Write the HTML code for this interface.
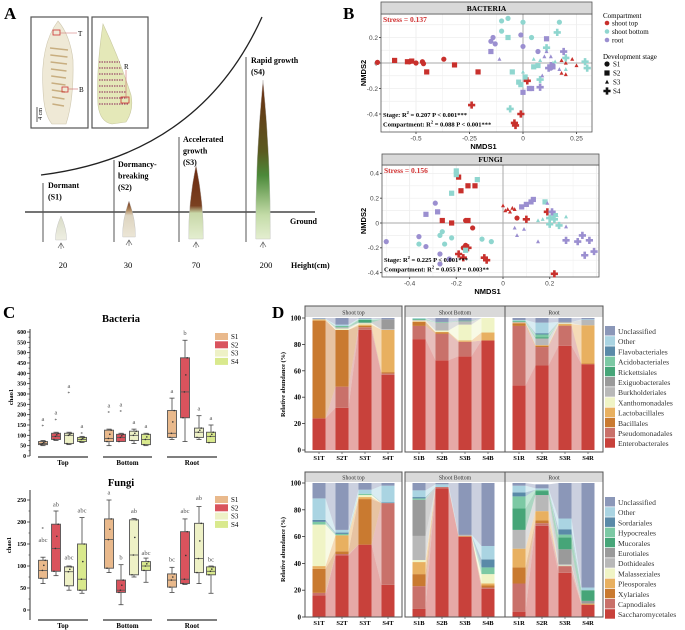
<!DOCTYPE html>
<html><head><meta charset="utf-8"><title>Bamboo shoot microbiome figure</title>
<style>
html,body{margin:0;padding:0;background:#fff;}
svg{display:block;font-family:"Liberation Serif",serif;}
</style></head>
<body>
<svg id="fig" width="685" height="630" viewBox="0 0 685 630" xmlns="http://www.w3.org/2000/svg">
<defs>
<linearGradient id="gS1" x1="0" y1="0" x2="0" y2="1"><stop offset="0" stop-color="#d9dcc8"/><stop offset="1" stop-color="#eeeee2"/></linearGradient>
<linearGradient id="gS2" x1="0" y1="0" x2="0" y2="1"><stop offset="0" stop-color="#6b2a10"/><stop offset="0.25" stop-color="#b08a60"/><stop offset="0.4" stop-color="#ddd4c0"/><stop offset="1" stop-color="#ece6d6"/></linearGradient>
<linearGradient id="gS3" x1="0" y1="0" x2="0" y2="1"><stop offset="0" stop-color="#6b2a10"/><stop offset="0.55" stop-color="#7a4020"/><stop offset="0.65" stop-color="#c8d8a8"/><stop offset="1" stop-color="#e4eed0"/></linearGradient>
<linearGradient id="gS4" x1="0" y1="0" x2="0" y2="1"><stop offset="0" stop-color="#6b2a10"/><stop offset="0.45" stop-color="#5a5a20"/><stop offset="0.6" stop-color="#4c8a3a"/><stop offset="0.85" stop-color="#c4dca8"/><stop offset="1" stop-color="#e4eed0"/></linearGradient>
</defs>
</svg>
<script>
// ===== DATA =====
// Panel B NMDS points: [x, y, compartmentIndex, stageIndex]
const bacNmdsPoints = [
[-0.68,0.005,0,0],[-0.53,0.01,0,0],[-0.5,0.0,0,0],[-0.47,0.01,0,0],[-0.465,-0.005,0,0],[-0.37,0.03,0,0],
[-0.6,0.02,0,1],[-0.52,0.015,0,1],[-0.54,0.01,0,1],[-0.45,-0.07,0,1],[-0.32,-0.015,0,1],[-0.21,-0.07,0,1],
[0.18,0.02,0,2],[0.2,0.0,0,2],[0.23,0.03,0,2],[0.25,-0.02,0,2],[0.18,-0.08,0,2],[0.2,-0.09,0,2],
[-0.24,-0.33,0,3],[-0.04,-0.47,0,3],[-0.035,-0.49,0,3],[-0.01,-0.4,0,3],[0.02,-0.14,0,3],
[-0.1,0.33,1,0],[-0.07,0.35,1,0],[-0.1,0.25,1,0],[0.0,0.32,1,0],[0.04,0.2,1,0],[0.17,0.32,1,0],
[-0.07,0.2,1,1],[-0.05,-0.07,1,1],[-0.02,-0.15,1,1],[-0.01,-0.17,1,1],[0.01,-0.11,1,1],[0.07,-0.02,1,1],[0.05,-0.03,1,1],
[0.0,-0.07,1,2],[0.05,0.03,1,2],[0.08,0.02,1,2],[0.15,0.01,1,2],[0.2,-0.05,1,2],[0.14,0.0,1,2],
[-0.06,-0.36,1,3],[0.08,-0.13,1,3],[0.11,0.12,1,3],[0.16,0.24,1,3],[0.29,0.01,1,3],[0.3,-0.04,1,3],[0.2,0.04,1,3],
[-0.15,0.17,2,0],[-0.13,0.15,2,0],[-0.14,0.2,2,0],[-0.01,0.22,2,0],[0.0,0.13,2,0],[0.07,0.09,2,0],[0.13,-0.04,2,0],[0.14,-0.02,2,0],
[-0.15,0.09,2,1],[0.0,-0.23,2,1],[0.04,-0.2,2,1],[0.03,-0.2,2,1],[0.11,0.19,2,1],[0.14,-0.03,2,1],
[-0.11,0.03,2,2],[0.1,0.05,2,2],[0.11,0.09,2,2],[0.13,0.05,2,2],[0.09,-0.1,2,2],[0.17,-0.05,2,2],
[0.08,-0.19,2,3],[0.12,-0.04,2,3],[0.19,0.09,2,3],[0.13,-0.02,2,3]
];
const funNmdsPoints = [
[-0.17,-0.2,0,0],[-0.13,-0.04,0,0],[-0.16,0.02,0,0],[0.06,0.04,0,0],[-0.16,-0.18,0,0],
[-0.19,0.37,0,1],[-0.15,0.3,0,1],[-0.12,0.3,0,1],[-0.18,0.26,0,1],[-0.26,0.02,0,1],[-0.22,0.0,0,1],[-0.15,0.02,0,1],
[0.0,0.14,0,2],[0.02,0.11,0,2],[0.04,0.12,0,2],[0.05,0.11,0,2],[0.01,0.1,0,2],[0.03,0.09,0,2],
[-0.19,-0.25,0,3],[-0.17,-0.28,0,3],[-0.08,-0.28,0,3],[-0.07,-0.3,0,3],[-0.15,-0.2,0,3],[0.1,0.03,0,3],[0.19,0.09,0,3],[0.22,-0.41,0,3],
[-0.36,-0.17,1,0],[-0.27,-0.1,1,0],[-0.26,-0.07,1,0],[-0.22,-0.12,1,0],[-0.09,-0.13,1,0],[-0.05,-0.15,1,0],[-0.25,-0.17,1,0],
[-0.2,0.42,1,1],[-0.2,0.39,1,1],[-0.11,0.35,1,1],[-0.22,0.24,1,1],[0.18,0.17,1,1],[-0.16,-0.22,1,1],
[0.15,0.02,1,2],[0.17,0.03,1,2],[0.21,0.05,1,2],[0.27,0.05,1,2],[0.2,0.0,1,2],[0.23,0.06,1,2],
[0.2,0.04,1,3],[0.22,0.07,1,3],[0.24,-0.02,1,3],[0.2,-0.01,1,3],[0.22,0.03,1,3],
[-0.5,-0.15,2,0],[-0.36,-0.11,2,0],[-0.33,-0.19,2,0],[-0.29,0.16,2,0],[-0.27,-0.25,2,0],[-0.23,-0.29,2,0],[-0.27,-0.33,2,0],
[-0.33,0.07,2,1],[-0.28,0.09,2,1],[0.08,0.13,2,1],[0.1,0.15,2,1],[0.12,0.17,2,1],[0.13,0.19,2,1],
[0.05,-0.04,2,2],[0.06,-0.1,2,2],[0.09,-0.05,2,2],[0.15,-0.15,2,2],[0.19,0.16,2,2],[0.27,-0.03,2,2],
[0.21,0.09,2,3],[0.27,-0.14,2,3],[0.32,-0.15,2,3],[0.34,-0.1,2,3],[0.37,-0.14,2,3],[0.35,-0.26,2,3],[0.39,-0.23,2,3]
];
const bacXTicks = [-0.5,-0.25,0,0.25];
const bacXTickLabels = ["-0.5","-0.25","0","0.25"];
const bacYTicks = [0.2,0,-0.2,-0.4];
const funXTicks = [-0.4,-0.2,0,0.2];
const funYTicks = [0.4,0.2,0,-0.2,-0.4];
const compartments = ["shoot top","shoot bottom","root"];
const stages = ["S1","S2","S3","S4"];

// Panel C boxplots: [q1, median, q3, min, max, outlier or null]
const groups = ["Top","Bottom","Root"];
const bacChao = [
[55,60,70,50,75,145],[80,95,110,75,115,175],[60,100,110,55,115,305],[70,80,90,65,95,110],
[70,85,125,50,130,210],[70,90,105,70,110,215],[75,100,120,60,130,null],[55,80,105,50,110,null],
[90,110,220,80,280,null],[185,310,475,70,560,null],[90,115,135,80,195,null],[65,95,115,65,150,null]
];
const bacLetters = ["a","a","a","a","a","a","a","a","a","b","a","a"];
const bacYTicks2 = [0,50,100,150,200,250,300,350,400,450,500,550,600];
const funChao = [
[72,90,113,60,120,185],[88,140,195,78,225,null],[55,87,98,45,100,null],[45,70,150,38,210,null],
[95,160,207,85,250,null],[40,45,68,12,103,null],[80,125,205,75,208,null],[90,100,110,63,118,null],
[52,68,82,40,97,null],[60,70,178,58,207,null],[85,117,197,60,235,null],[80,88,98,38,100,null]
];
const funLetters = ["abc","ab","abc","abc","a","b","ab","abc","bc","abc","ab","bc"];
const funLetterVals = [155,235,115,222,262,115,220,125,110,220,250,110];
const funYTicks2 = [0,50,100,150,200,250];

// Panel D relative abundance (%)
const bacOrders = ["Enterobacterales","Pseudomonadales","Bacillales","Lactobacillales","Xanthomonadales","Burkholderiales","Exiguobacterales","Rickettsiales","Acidobacteriales","Flavobacteriales","Other","Unclassified"];
const funOrders = ["Saccharomycetales","Capnodiales","Xylariales","Pleosporales","Malasseziales","Dothideales","Eurotiales","Mucorales","Hypocreales","Sordariales","Other","Unclassified"];
const sampleNamesT = ["S1T","S2T","S3T","S4T"];
const sampleNamesB = ["S1B","S2B","S3B","S4B"];
const sampleNamesR = ["S1R","S2R","S3R","S4R"];
const facets = ["Shoot top","Shoot Bottom","Root"];
const bacAbund = [
[24,0,74,1,0,0,0,0,0,0,0.5,0.5],
[32,16,43,0,1,1,0,0.5,0.5,0,1,5],
[91,2,1,1,1,0.5,0,2,0.5,0,0.5,0.5],
[57,1,1,32,0,0.5,7.5,0,0,0,0,1],
[84,10,3,0.5,0.5,0.5,0,0.5,0.5,0,0.5,0],
[68,20,1,0.5,1,6,0,0,0.5,0,0,3],
[71,11,0,1,12,2.5,0,0.5,0,0,0,2],
[83,0,0,6,11,0,0,0,0,0,0,0],
[49,45,2,0.5,0,0.5,0,0.5,0.5,0,0.5,1.5],
[64,14,1,0.5,0,5,0,1,2,1,8,3.5],
[79,15,0.5,1,0.5,1,0,0,0,0,0,3],
[65,0,0.5,29,0,4,0,0,0,0,0.5,1]
];
const funAbund = [
[16,2,18,2,31,0,0,0,2,1.5,16,11.5],
[46,1,2,12,0,0,0,0,1,1,2,35],
[54,0,34,1.5,1.5,0,0,0,1,0,3,5],
[24,61,0,0,0,0,0,0,0,0.5,12.5,2],
[6,17,9,9,1.5,18,27,0,1,1,5,5.5],
[96,1,0,0,0,0,0,0,0,0,2,1],
[60,0,0,0.5,0,0.5,0.5,0,0,0,0,38.5],
[21,1,1.5,1.5,7,0,0,0,5,6,10,47],
[4,21,12,14,0,14,0,16,9,3,5,2],
[68,2,2,7,0,12,0,3,1,0,1,3],
[33,5,0,0,0.5,1,11,9,2,4,8,26.5],
[9,0,0.5,0.5,0,0,2,8,0,0,2,78]
];
const dTicks = [0,20,40,60,80,100];

// ===== DRAWING =====
const NS='http://www.w3.org/2000/svg';
const svg=document.getElementById('fig');
function mk(tag,attrs,parent){const e=document.createElementNS(NS,tag);for(const k in attrs)e.setAttribute(k,attrs[k]);(parent||svg).appendChild(e);return e;}
function tx(str,x,y,attrs,parent){const t=mk('text',Object.assign({x:x,y:y},attrs||{}),parent);t.textContent=str;return t;}
function grp(name){const g=mk('g',{});return g;}

// ---------- Panel A ----------
const gA=grp('panel-a-growth-diagram');
let t=tx('A',4,19,{'font-size':17,'font-weight':'bold'},gA);

// photos
let r=mk('rect',{x:31,y:17,width:57,height:111,fill:'#fff',stroke:'#555','stroke-width':1.2},gA);

mk('path',{d:'M58,21 Q40,45 43,90 Q44,115 52,124 L66,124 Q74,100 73,60 Q70,35 58,21 Z',fill:'#efe9d6',stroke:'#cfc8b0','stroke-width':0.6},gA);
for(let i=0;i<9;i++){mk('line',{x1:50+i*0.3,y1:48+i*7,x2:68-i*0.5,y2:50+i*7,stroke:'#c8ae80','stroke-width':1.4},gA);}
mk('rect',{x:53,y:30,width:7,height:5,fill:'none',stroke:'#c33','stroke-width':0.8},gA);
mk('line',{x1:60,y1:33,x2:77,y2:33,stroke:'#c66','stroke-width':0.6},gA);
tx('T',78,36,{'font-size':7},gA);
mk('rect',{x:62,y:87,width:6,height:5,fill:'none',stroke:'#c33','stroke-width':0.8},gA);
mk('line',{x1:68,y1:89,x2:78,y2:89,stroke:'#c66','stroke-width':0.6},gA);
tx('B',79,92,{'font-size':7},gA);
mk('line',{x1:37,y1:107,x2:37,y2:122,stroke:'#333','stroke-width':0.8},gA);
tx('4 cm',42,114,{'font-size':6,transform:'rotate(-90 42 114)','text-anchor':'middle'},gA);
r=mk('rect',{x:92,y:17,width:56,height:111,fill:'#fff',stroke:'#555','stroke-width':1.2},gA);

mk('path',{d:'M103,24 Q96,70 98,105 Q100,122 112,124 L126,122 Q134,110 131,95 Q120,60 103,24 Z',fill:'#e4e8b8',stroke:'#c8c8a0','stroke-width':0.6},gA);
for(let i=0;i<8;i++){mk('line',{x1:99,y1:62+i*6,x2:120+i*1.2,y2:62+i*6,stroke:'#9a4a6a','stroke-width':1.3,'stroke-dasharray':'1.5 1'},gA);}
mk('rect',{x:121,y:97,width:8,height:6,fill:'none',stroke:'#c33','stroke-width':0.8},gA);
mk('line',{x1:126,y1:70,x2:126,y2:97,stroke:'#c66','stroke-width':0.6},gA);
tx('R',124,69,{'font-size':7},gA);
// curve
let cv=mk('path',{d:'M41,175 Q200,155 262,17',fill:'none',stroke:'#222','stroke-width':1.3},gA);

// ground
let gl=mk('line',{x1:25,y1:212,x2:315,y2:212,stroke:'#222','stroke-width':1.2},gA);

tx('Ground',290,224,{'font-size':8,'font-weight':'bold'},gA);
const stageLines=[[43,183],[114,160],[179,137],[246,57]];
stageLines.forEach(s=>{mk('line',{x1:s[0],y1:s[1],x2:s[0],y2:242,stroke:'#555','stroke-width':1},gA);});
const stageText=[[48,188,['Dormant','(S1)']],[118,167,['Dormancy-','breaking','(S2)']],[183,142,['Accelerated','growth','(S3)']],[251,63,['Rapid growth','(S4)']]];
stageText.forEach(s=>{s[2].forEach((ln,i)=>{tx(ln,s[0],s[1]+i*11.5,{'font-size':8,'font-weight':'bold'},gA);});});
const shoots=[[61,216,243,6,'gS1'],[129,201,240,7,'gS2'],[196,165,242,8,'gS3'],[263,80,242,8,'gS4']];
shoots.forEach((s,i)=>{
 const p=mk('path',{d:`M${s[0]},${s[1]} Q${s[0]+s[3]},${(s[1]+s[2])/2} ${s[0]+s[3]*0.9},${s[2]-3} L${s[0]-s[3]*0.9},${s[2]-3} Q${s[0]-s[3]},${(s[1]+s[2])/2} ${s[0]},${s[1]} Z`,fill:'url(#'+s[4]+')',stroke:'#bbb','stroke-width':0.4},gA);
 
 mk('path',{d:`M${s[0]-3},${s[2]+5} L${s[0]},${s[2]} L${s[0]+3},${s[2]+5} M${s[0]},${s[2]} L${s[0]},${s[2]+6}`,fill:'none',stroke:'#555','stroke-width':0.6},gA);
});
[['20',63],['30',128],['70',196],['200',266]].forEach(h=>{tx(h[0],h[1],268,{'font-size':8.5,'text-anchor':'middle'},gA);});
tx('Height(cm)',291,268,{'font-size':8,'font-weight':'bold'},gA);

// ---------- Panel B ----------
const gB=grp('panel-b-nmds');
t=tx('B',343,19,{'font-size':17,'font-weight':'bold'},gB);

const compColors=['#c8302c','#8fd6cf','#9b8fd0'];
function marker(g,x,y,stage,color,big){
 let m;
 if(stage===0){m=mk('circle',{cx:x,cy:y,r:2.6,fill:color},g);}
 else if(stage===1){m=mk('rect',{x:x-2.6,y:y-2.6,width:5.2,height:5.2,fill:color},g);}
 else if(stage===2){m=mk('path',{d:`M${x},${y-2.2} L${x+2},${y+1.6} L${x-2},${y+1.6} Z`,fill:color},g);}
 else {const a=3.6,b=1.3;m=mk('path',{d:`M${x-b},${y-a} h${2*b} v${a-b} h${a-b} v${2*b} h${-(a-b)} v${a-b} h${-2*b} v${-(a-b)} h${-(a-b)} v${-2*b} h${a-b} Z`,fill:color},g);}
 return m;
}
function nmds(cfg){
 const g=grp(cfg.name);
 const L=cfg.L,R=cfg.R,T=cfg.T,B=cfg.B;
 const sx=v=>cfg.x0+v/cfg.xs*cfg.xpx, sy=v=>cfg.y0-v/cfg.ys*cfg.ypx;
 mk('rect',{x:L,y:T,width:R-L,height:B-T,fill:'#fff'},g);
 // grid
 for(let v=-1;v<=1.001;v+=cfg.xs/2){const x=sx(v);if(x>L&&x<R)mk('line',{x1:x,y1:T,x2:x,y2:B,stroke:'#eeeeee','stroke-width':Math.abs((v/cfg.xs)%1)<0.01||Math.abs(Math.abs((v/cfg.xs)%1)-1)<0.01?0.9:0.5},g);}
 for(let v=-1;v<=1.001;v+=cfg.ys/2){const y=sy(v);if(y>T&&y<B)mk('line',{x1:L,y1:y,x2:R,y2:y,stroke:'#eeeeee','stroke-width':0.7},g);}
 mk('line',{x1:sx(0),y1:T,x2:sx(0),y2:B,stroke:'#aaa','stroke-width':1},g);
 mk('line',{x1:L,y1:sy(0),x2:R,y2:sy(0),stroke:'#aaa','stroke-width':1},g);
 mk('rect',{x:L,y:T,width:R-L,height:B-T,fill:'none',stroke:'#555','stroke-width':0.8},g);
 const hd=mk('rect',{x:L,y:cfg.H,width:R-L,height:T-cfg.H,fill:'#d9d9d9',stroke:'#555','stroke-width':0.8},g);
 
 tx(cfg.title,(L+R)/2,T-3,{'font-size':7.5,'font-weight':'bold','text-anchor':'middle'},g);
 cfg.xt.forEach((v,i)=>{const x=sx(v);mk('line',{x1:x,y1:B,x2:x,y2:B+2,stroke:'#555'},g);const tl=tx(cfg.xl?cfg.xl[i]:String(v),x,B+8.5,{'font-size':6.5,'text-anchor':'middle','font-family':'Liberation Sans, sans-serif',fill:'#444'},g);});
 cfg.yt.forEach(v=>{const y=sy(v);mk('line',{x1:L-2,y1:y,x2:L,y2:y,stroke:'#555'},g);const tl=tx(String(v),L-3,y+2.3,{'font-size':6.5,'text-anchor':'end','font-family':'Liberation Sans, sans-serif',fill:'#444'},g);});
 let xt=tx('NMDS1',(L+R)/2-3,B+17,{'font-size':7.5,'font-weight':'bold','text-anchor':'middle','font-family':'Liberation Sans, sans-serif'},g);
 
 let yt=tx('NMDS2',cfg.ytx,(T+B)/2,{'font-size':7.5,'font-weight':'bold','text-anchor':'middle','font-family':'Liberation Sans, sans-serif',transform:`rotate(-90 ${cfg.ytx} ${(T+B)/2})`},g);
 
 cfg.pts.forEach(p=>{const m=marker(g,sx(p[0]),sy(p[1]),p[3],compColors[p[2]]);
  
  });
 let st=tx(cfg.stress,L+2,T+8,{'font-size':7.5,'font-weight':'bold',fill:'#d03030'},g);
 
 const s1=tx('',L+2,B-15,{'font-size':6.5,'font-weight':'bold'},g);s1.innerHTML=cfg.s1;
 const s2=tx('',L+2,B-5.5,{'font-size':6.5,'font-weight':'bold'},g);s2.innerHTML=cfg.s2;
}
nmds({name:'bacteria-nmds-plot',title:'BACTERIA',L:381,R:592,T:14,B:132,H:2,x0:523,xs:0.25,xpx:53.5,y0:63,ys:0.2,ypx:25.5,xt:bacXTicks,xl:bacXTickLabels,yt:bacYTicks,ytx:366,pts:bacNmdsPoints,stress:'Stress = 0.137',
 s1:'Stage:  R<tspan dy="-3" font-size="4.5">2</tspan><tspan dy="3"> = 0.207  P &lt; 0.001***</tspan>',
 s2:'Compartment:  R<tspan dy="-3" font-size="4.5">2</tspan><tspan dy="3"> = 0.088  P &lt; 0.001***</tspan>'});
nmds({name:'fungi-nmds-plot',title:'FUNGI',L:382,R:599,T:165,B:277,H:154,x0:503,xs:0.2,xpx:46.7,y0:223,ys:0.2,ypx:24.8,xt:funXTicks,yt:funYTicks,ytx:366,pts:funNmdsPoints,stress:'Stress = 0.156',
 s1:'Stage:  R<tspan dy="-3" font-size="4.5">2</tspan><tspan dy="3"> = 0.225  P &lt; 0.001***</tspan>',
 s2:'Compartment:  R<tspan dy="-3" font-size="4.5">2</tspan><tspan dy="3"> = 0.055  P = 0.003**</tspan>'});
// legend
const gBL=grp('nmds-legend');
tx('Compartment',603,18,{'font-size':7},gBL);
compartments.forEach((c,i)=>{const y=25+i*8.5;const m=mk('circle',{cx:607,cy:y-2,r:2.3,fill:compColors[i]},gBL);
 
 tx(c,612,y+0.5,{'font-size':7},gBL);});
tx('Development stage',603,59,{'font-size':7},gBL);
stages.forEach((s,i)=>{const y=66+i*9;const m=marker(gBL,607,y-2,i,'#111');
 
 tx(s,613,y+0.5,{'font-size':7},gBL);});

// ---------- Panel C ----------
const gC=grp('panel-c-chao1');
t=tx('C',3,318,{'font-size':17,'font-weight':'bold'},gC);

const stageColors=['#e9b98c','#d9535d','#eef1c6','#d9e98d'];
const boxX=[43,56,69,82,109,121,134,146,172,185,199,211];
const groupSpans=[[38,88],[103,152],[167,217]];
function boxplot(cfg){
 const g=grp(cfg.name);
 const sy=v=>cfg.y0-v*cfg.k;
 tx(cfg.title,121,cfg.titleY,{'font-size':10.5,'font-weight':'bold','text-anchor':'middle'},g);
 mk('line',{x1:30,y1:cfg.axTop,x2:30,y2:cfg.axBot,stroke:'#333','stroke-width':1},g);
 cfg.ticks.forEach((v,i)=>{const y=sy(v);mk('line',{x1:27,y1:y,x2:30,y2:y,stroke:'#333','stroke-width':0.8},g);
  if(i<cfg.ticks.length-1)mk('line',{x1:28.5,y1:sy(v+cfg.step/2),x2:30,y2:sy(v+cfg.step/2),stroke:'#333','stroke-width':0.6},g);
  const tl=tx(String(v),26,y+2,{'font-size':5.8,'font-weight':'bold','text-anchor':'end'},g);
  });
 const yt=tx('chao1',cfg.ytX,cfg.ytY,{'font-size':6.5,'font-weight':'bold','text-anchor':'middle',transform:`rotate(-90 ${cfg.ytX} ${cfg.ytY})`},g);
 
 cfg.data.forEach((d,i)=>{const x=boxX[i],w=9;
  mk('line',{x1:x,y1:sy(d[4]),x2:x,y2:sy(d[3]),stroke:'#444','stroke-width':0.8},g);
  mk('line',{x1:x-2.5,y1:sy(d[4]),x2:x+2.5,y2:sy(d[4]),stroke:'#444','stroke-width':0.8},g);
  mk('line',{x1:x-2.5,y1:sy(d[3]),x2:x+2.5,y2:sy(d[3]),stroke:'#444','stroke-width':0.8},g);
  const b=mk('rect',{x:x-w/2,y:sy(d[2]),width:w,height:sy(d[0])-sy(d[2]),fill:stageColors[i%4],stroke:'#555','stroke-width':0.9},g);
  
  
  mk('line',{x1:x-w/2,y1:sy(d[1]),x2:x+w/2,y2:sy(d[1]),stroke:'#555','stroke-width':0.8},g);
  [d[0],d[1],(d[1]+d[2])/2,d[2]].forEach((v,j)=>{mk('circle',{cx:x-2+j*1.4,cy:sy(v),r:0.8,fill:'#333'},g);});
  if(d[5]!==null)mk('text',{x:x-1.5,y:sy(d[5])+2,'font-size':5,fill:'#333'},g).textContent='*';
  const lv=cfg.letterVals?cfg.letterVals[i]:Math.max(d[4],d[5]||0)+25;
  const lt=tx(cfg.letters[i],x,sy(lv),{'font-size':6.5,'text-anchor':'middle',fill:'#555'},g);
  });
 groups.forEach((gn,i)=>{const s=groupSpans[i];mk('line',{x1:s[0],y1:cfg.ulY,x2:s[1],y2:cfg.ulY,stroke:'#333','stroke-width':1.3},g);
  const gl=tx(gn,(s[0]+s[1])/2,cfg.ulY+8,{'font-size':7,'font-weight':'bold','text-anchor':'middle'},g);
  });
 stages.forEach((s,i)=>{const y=cfg.legY+i*8.3;const sw=mk('rect',{x:215,y:y,width:13,height:7,fill:stageColors[i]},g);
  
  tx(s,231,y+6,{'font-size':7},g);});
}
boxplot({name:'bacteria-chao1-boxplot',title:'Bacteria',titleY:322,y0:456,k:0.2067,ticks:bacYTicks2,step:50,axTop:329,axBot:456,ytX:13,ytY:397,data:bacChao,letters:bacLetters,ulY:457,legY:333});
boxplot({name:'fungi-chao1-boxplot',title:'Fungi',titleY:486,y0:610,k:0.44,ticks:funYTicks2,step:50,axTop:490,axBot:620,ytX:11,ytY:545,data:funChao,letters:funLetters,letterVals:funLetterVals,ulY:620,legY:496});

// ---------- Panel D ----------
const gD=grp('panel-d-composition');
t=tx('D',272,318,{'font-size':17,'font-weight':'bold'},gD);

const orderColors=['#c8413b','#c9716a','#c97a30','#e8b060','#f0f4c6','#b8b8b8','#9a9a9a','#46a578','#7cc9a4','#5a8aa8','#aad4e2','#8b97b8'];
const facetX=[[305,402],[405,505],[505,603]];
const barOff=[14,37,60,83];
const sampleSets=[sampleNamesT,sampleNamesB,sampleNamesR];
function stacked(cfg){
 const g=grp(cfg.name);
 const sy=v=>cfg.y0-v*cfg.k;
 facetX.forEach((f,fi)=>{
  mk('rect',{x:f[0],y:cfg.hT,width:f[1]-f[0],height:cfg.pT-cfg.hT,fill:'#d9d9d9'},g);
  const ft=tx(facets[fi],(f[0]+f[1])/2,cfg.pT-2.5,{'font-size':5.8,'text-anchor':'middle',fill:'#333'},g);
  
  // flows
  for(let b=0;b<3;b++){
   const i=fi*4+b,j=i+1;let c1=0,c2=0;
   cfg.data[i].forEach((v,o)=>{const v2=cfg.data[j][o];
    const xa=f[0]+barOff[b]+6.5,xb=f[0]+barOff[b+1]-6.5;
    const p=mk('polygon',{points:`${xa},${sy(c1)} ${xb},${sy(c2)} ${xb},${sy(c2+v2)} ${xa},${sy(c1+v)}`,fill:orderColors[o],opacity:0.45},g);
    
    
    c1+=v;c2+=v2;});
  }
  for(let b=0;b<4;b++){
   const i=fi*4+b;let c=0;const x=f[0]+barOff[b];
   cfg.data[i].forEach((v,o)=>{
    const rc=mk('rect',{x:x-6.5,y:sy(c+v),width:13,height:Math.max(0,sy(c)-sy(c+v)),fill:orderColors[o]},g);
    
    
    c+=v;});
   const xl=tx(sampleSets[fi][b],x,cfg.pB+8,{'font-size':6.5,'font-weight':'bold','text-anchor':'middle'},g);
   
   mk('line',{x1:x,y1:cfg.pB,x2:x,y2:cfg.pB+2,stroke:'#333','stroke-width':0.6},g);
  }
  mk('rect',{x:f[0],y:cfg.hT,width:f[1]-f[0],height:cfg.pB-cfg.hT,fill:'none',stroke:'#555','stroke-width':1},g);
 });
 dTicks.forEach(v=>{const y=sy(v);mk('line',{x1:302,y1:y,x2:305,y2:y,stroke:'#333','stroke-width':0.8},g);
  const tl=tx(String(v),301,y+2.5,{'font-size':7,'font-weight':'bold','text-anchor':'end'},g);
  });
 const ym=(cfg.pT+cfg.pB)/2;
 const yt=tx('Relative abundance (%)',285,ym,{'font-size':6.3,'font-weight':'bold','text-anchor':'middle',transform:`rotate(-90 285 ${ym})`},g);
 
 for(let k=0;k<12;k++){const o=11-k;const y=cfg.legY+k*10.2;
  const sw=mk('rect',{x:605,y:y,width:10,height:9.5,fill:orderColors[o]},g);
  
  const lt=tx(cfg.orders[o],618,y+8,{'font-size':7.6,fill:'#333'},g);
  }
}
stacked({name:'bacteria-order-composition',data:bacAbund,orders:bacOrders,y0:450,k:1.32,hT:306,pT:317,pB:452,legY:326});
stacked({name:'fungi-order-composition',data:funAbund,orders:funOrders,y0:617,k:1.34,hT:472,pT:482,pB:617,legY:497});
</script>
</body></html>
